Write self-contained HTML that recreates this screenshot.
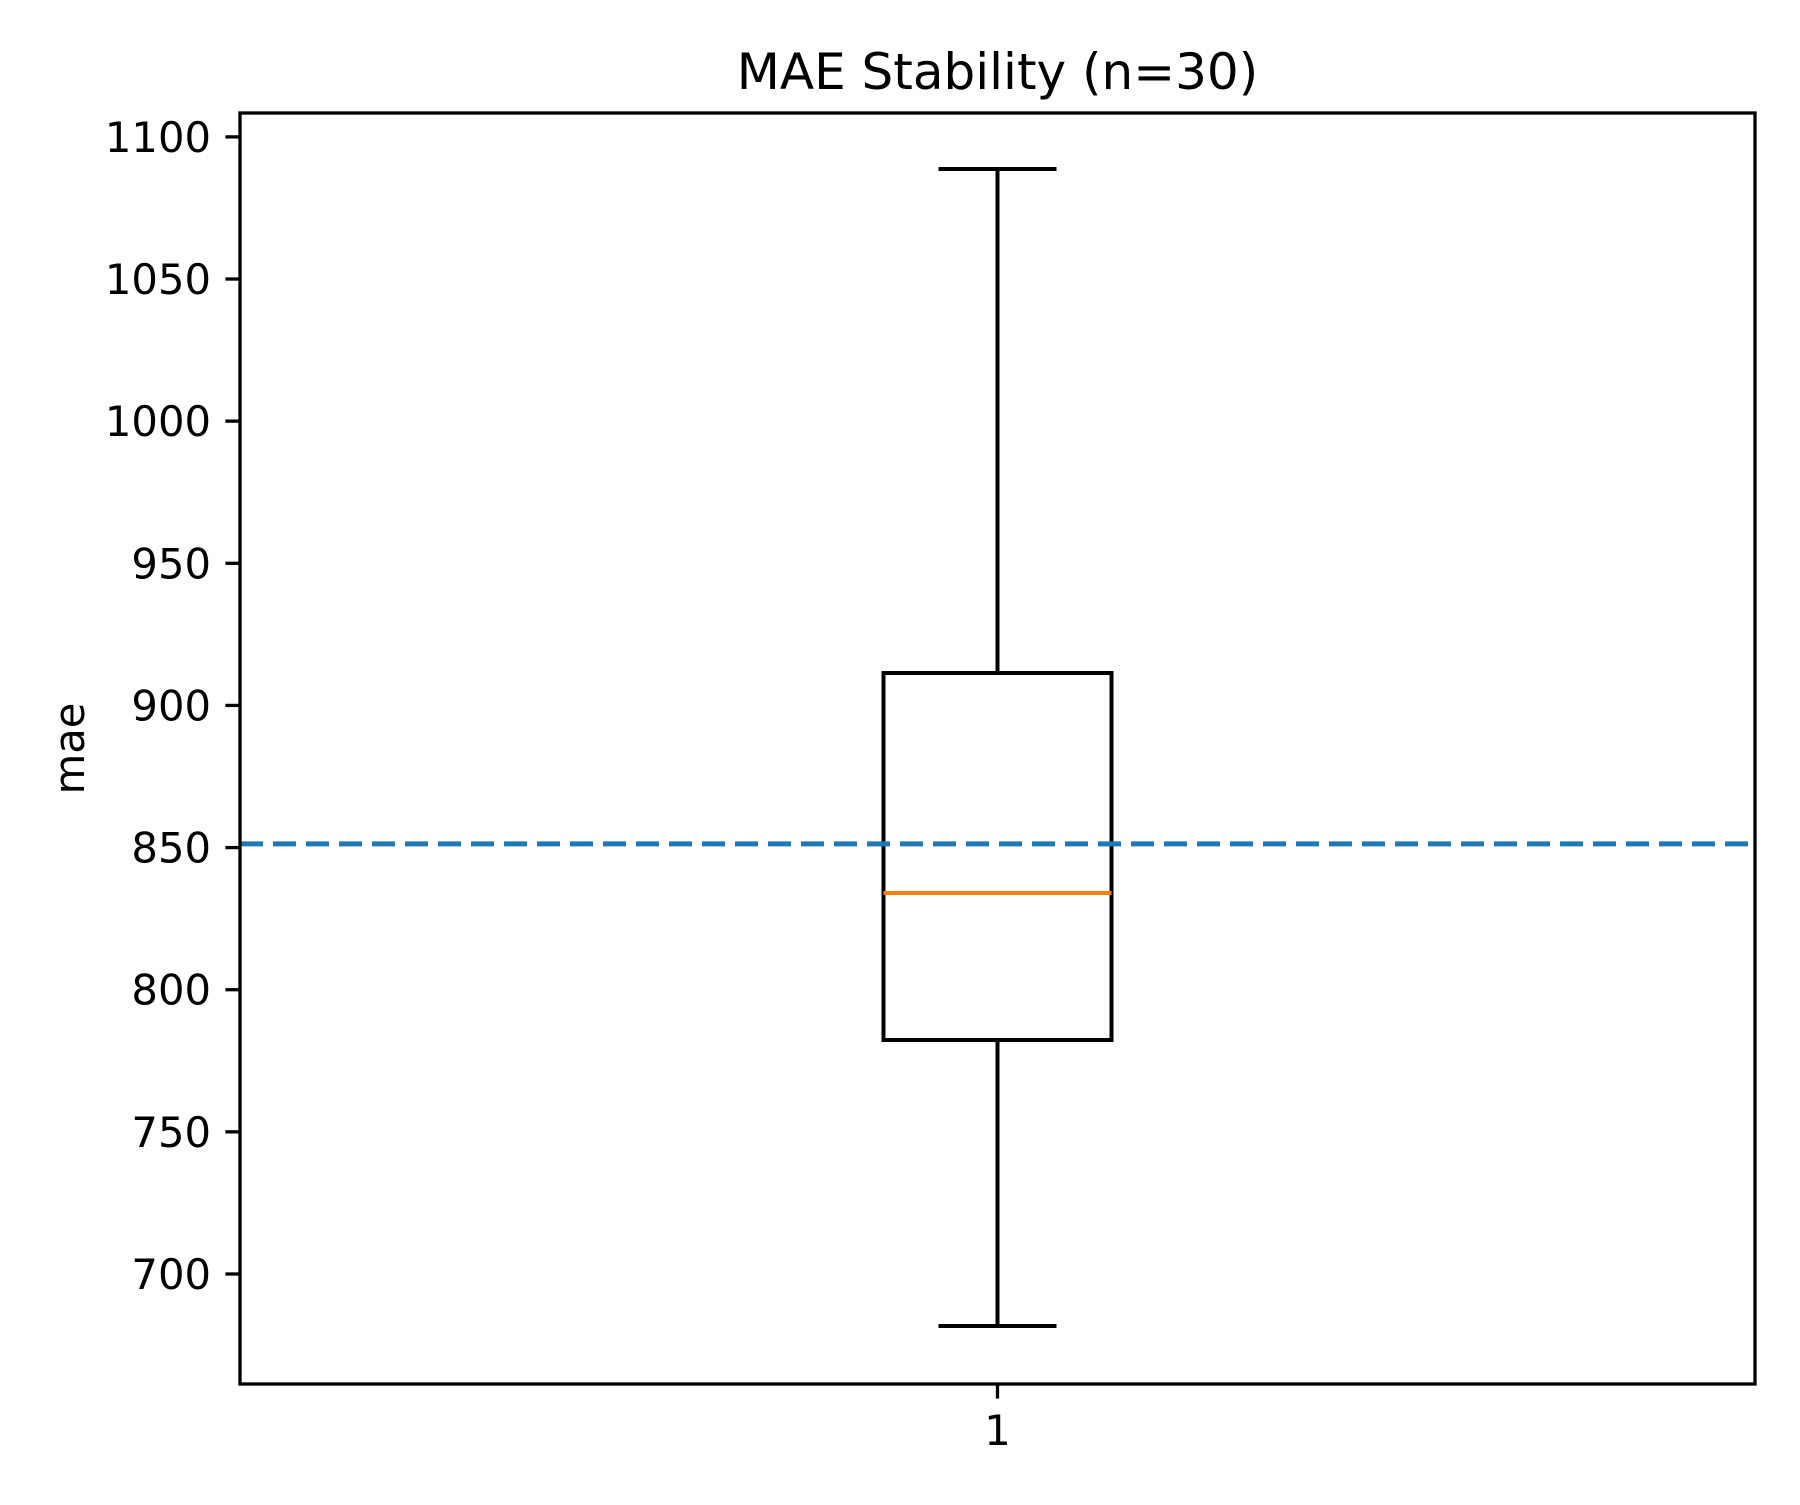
<!DOCTYPE html>
<html><head><meta charset="utf-8"><style>html,body{margin:0;padding:0;background:#fff}</style></head>
<body>
<svg id="chart" width="1800" height="1500" xmlns="http://www.w3.org/2000/svg" font-family="'DejaVu Sans','Liberation Sans',sans-serif">
<rect x="0" y="0" width="1800" height="1500" fill="#fff"/>
<g id="plot"></g>
</svg>
<script>
const categories = ["1"];
const q1Values = [782.3];
const q3Values = [911.4];
const medianValues = [834.0];
const whiskerLow = [681.7];
const whiskerHigh = [1088.7];
const meanValue = [851.3];
const yTicks = [700, 750, 800, 850, 900, 950, 1000, 1050, 1100];
const yDomain = [661.3, 1108.4];

const L=240, R=1755, T=113, B=1384;
const NS='http://www.w3.org/2000/svg';
const g=document.getElementById('plot');
function y(v){return B-(v-yDomain[0])/(yDomain[1]-yDomain[0])*(B-T);}
function x(i){return L+(i+0.5)/categories.length*(R-L);}
function mk(tag,attrs,parent){const e=document.createElementNS(NS,tag);for(const k in attrs)e.setAttribute(k,attrs[k]);(parent||g).appendChild(e);return e;}

categories.forEach((c,i)=>{
  const cx=x(i), hw=114, cw=59;
  let e;
  e=mk('line',{x1:cx,x2:cx,y1:y(q3Values[i]),y2:y(whiskerHigh[i]),stroke:'#000','stroke-width':4});
  
  
  e=mk('line',{x1:cx,x2:cx,y1:y(q1Values[i]),y2:y(whiskerLow[i]),stroke:'#000','stroke-width':4});
  
  
  e=mk('line',{x1:cx-cw,x2:cx+cw,y1:y(whiskerHigh[i]),y2:y(whiskerHigh[i]),stroke:'#000','stroke-width':4});
  
  
  e=mk('line',{x1:cx-cw,x2:cx+cw,y1:y(whiskerLow[i]),y2:y(whiskerLow[i]),stroke:'#000','stroke-width':4});
  
  
  e=mk('rect',{x:cx-hw,y:y(q3Values[i]),width:2*hw,height:y(q1Values[i])-y(q3Values[i]),fill:'none',stroke:'#000','stroke-width':4});
  
  
  e=mk('line',{x1:cx-hw,x2:cx+hw,y1:y(medianValues[i]),y2:y(medianValues[i]),stroke:'#ff7f0e','stroke-width':4});
  
  
  e=mk('line',{x1:cx,x2:cx,y1:B,y2:B+14.6,stroke:'#000','stroke-width':3.3});
  
  
  e=mk('text',{x:cx,y:1445,'text-anchor':'middle','font-size':41.7,fill:'#000'});
  e.textContent=c;
  
  
});

let m=mk('line',{x1:L,x2:R,y1:y(meanValue[0]),y2:y(meanValue[0]),stroke:'#1f77b4','stroke-width':5,'stroke-dasharray':'23 10'});



yTicks.forEach(t=>{
  let e=mk('line',{x1:L-14.6,x2:L,y1:y(t),y2:y(t),stroke:'#000','stroke-width':3.3});
  
  
  e=mk('text',{x:L-29,y:y(t)+15,'text-anchor':'end','font-size':41.7,fill:'#000'});
  e.textContent=t;
  
  
});

let fr=mk('rect',{x:L,y:T,width:R-L,height:B-T,fill:'none',stroke:'#000','stroke-width':3.3});



let ti=mk('text',{x:(L+R)/2,y:89,'text-anchor':'middle','font-size':50,fill:'#000'});
ti.textContent='MAE Stability (n=30)';



let yl=mk('text',{x:0,y:0,'text-anchor':'middle','font-size':41.7,fill:'#000',transform:'translate(84,'+((T+B)/2)+') rotate(-90)'});
yl.textContent='mae';


</script>
</body></html>
